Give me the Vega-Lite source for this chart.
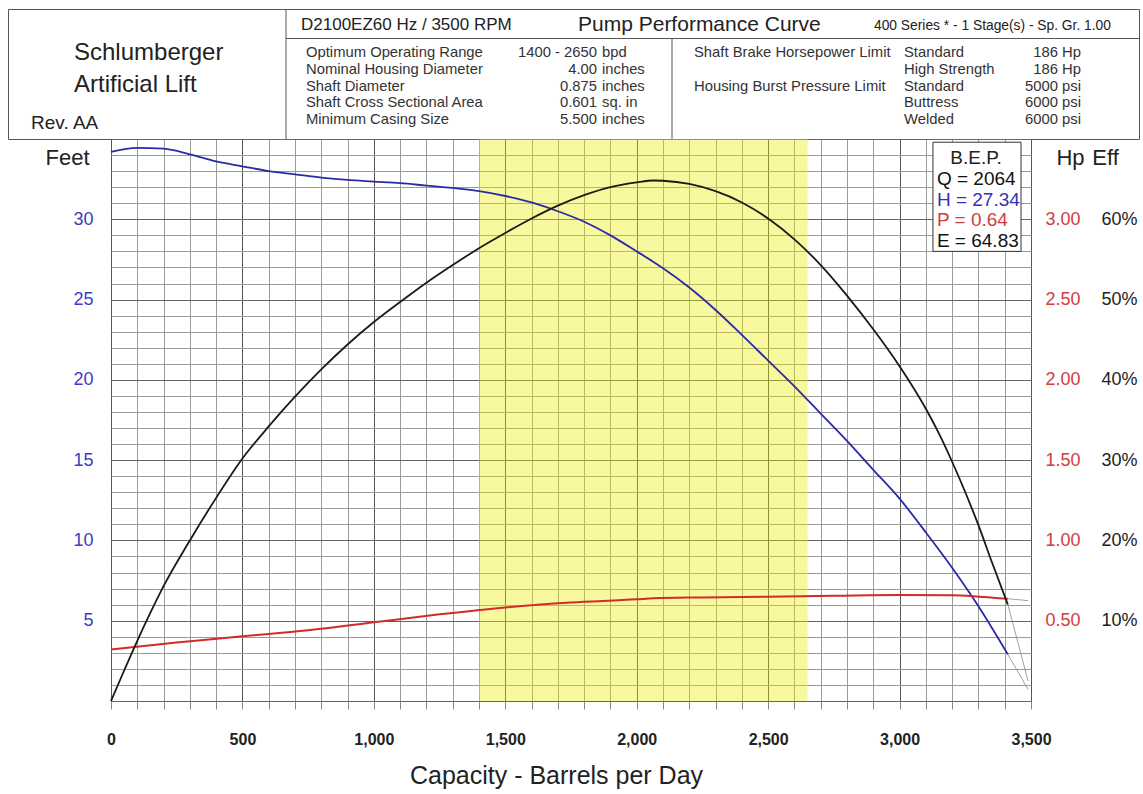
{
  "$schema": "https://vega.github.io/schema/vega-lite/v6.json",
  "padding": {"left": 7, "top": 8, "right": 0, "bottom": 0},
  "background": "white",
  "config": {
    "view": {"stroke": "#555", "strokeWidth": 1},
    "font": "Liberation Sans",
    "text": {"font": "Liberation Sans"}
  },
  "datasets": {
    "band": [{"from": 1400, "to": 2650}],
    "head": [
      {"q": 0, "ft": 34.2}, {"q": 100, "ft": 34.45}, {"q": 200, "ft": 34.4}, {"q": 300, "ft": 34.05},
      {"q": 400, "ft": 33.6}, {"q": 500, "ft": 33.3}, {"q": 600, "ft": 33.0}, {"q": 700, "ft": 32.8},
      {"q": 800, "ft": 32.6}, {"q": 900, "ft": 32.45}, {"q": 1000, "ft": 32.35}, {"q": 1100, "ft": 32.25},
      {"q": 1200, "ft": 32.1}, {"q": 1300, "ft": 31.95}, {"q": 1400, "ft": 31.75}, {"q": 1500, "ft": 31.45},
      {"q": 1600, "ft": 31.05}, {"q": 1700, "ft": 30.5}, {"q": 1800, "ft": 29.85}, {"q": 1900, "ft": 29.0},
      {"q": 2000, "ft": 28.0}, {"q": 2064, "ft": 27.34}, {"q": 2100, "ft": 26.95}, {"q": 2200, "ft": 25.75},
      {"q": 2300, "ft": 24.35}, {"q": 2400, "ft": 22.8}, {"q": 2500, "ft": 21.2}, {"q": 2600, "ft": 19.6},
      {"q": 2700, "ft": 17.9}, {"q": 2800, "ft": 16.2}, {"q": 2900, "ft": 14.4}, {"q": 3000, "ft": 12.6},
      {"q": 3100, "ft": 10.5}, {"q": 3200, "ft": 8.3}, {"q": 3300, "ft": 5.9}, {"q": 3412, "ft": 2.9}
    ],
    "headTail": [{"q": 3412, "ft": 2.9}, {"q": 3489, "ft": 0.72}],
    "power": [
      {"q": 0, "hp": 0.321}, {"q": 250, "hp": 0.365}, {"q": 500, "hp": 0.403}, {"q": 750, "hp": 0.44},
      {"q": 1000, "hp": 0.49}, {"q": 1250, "hp": 0.54}, {"q": 1500, "hp": 0.583}, {"q": 1750, "hp": 0.613},
      {"q": 2000, "hp": 0.633}, {"q": 2064, "hp": 0.64}, {"q": 2250, "hp": 0.645}, {"q": 2500, "hp": 0.65},
      {"q": 2750, "hp": 0.655}, {"q": 3000, "hp": 0.66}, {"q": 3200, "hp": 0.658}, {"q": 3300, "hp": 0.65},
      {"q": 3412, "hp": 0.637}
    ],
    "powerTail": [{"q": 3412, "hp": 0.637}, {"q": 3489, "hp": 0.625}],
    "eff": [
      {"q": 0, "e": 0}, {"q": 50, "e": 3.8}, {"q": 100, "e": 7.5}, {"q": 150, "e": 11}, {"q": 200, "e": 14.3},
      {"q": 300, "e": 20}, {"q": 400, "e": 25.3}, {"q": 500, "e": 30.2}, {"q": 600, "e": 34.2},
      {"q": 700, "e": 37.9}, {"q": 800, "e": 41.3}, {"q": 900, "e": 44.4}, {"q": 1000, "e": 47.2},
      {"q": 1100, "e": 49.7}, {"q": 1200, "e": 52.1}, {"q": 1300, "e": 54.3}, {"q": 1400, "e": 56.4},
      {"q": 1500, "e": 58.3}, {"q": 1600, "e": 60.1}, {"q": 1700, "e": 61.7}, {"q": 1800, "e": 63.0},
      {"q": 1900, "e": 64.0}, {"q": 2000, "e": 64.6}, {"q": 2064, "e": 64.83}, {"q": 2100, "e": 64.8},
      {"q": 2200, "e": 64.4}, {"q": 2300, "e": 63.5}, {"q": 2400, "e": 62.1}, {"q": 2500, "e": 60.1},
      {"q": 2600, "e": 57.5}, {"q": 2700, "e": 54.3}, {"q": 2800, "e": 50.5}, {"q": 2900, "e": 46.3},
      {"q": 3000, "e": 41.7}, {"q": 3100, "e": 36.4}, {"q": 3150, "e": 33.3}, {"q": 3200, "e": 29.8},
      {"q": 3250, "e": 26.0}, {"q": 3300, "e": 21.9}, {"q": 3350, "e": 17.4}, {"q": 3412, "e": 12}
    ],
    "effTail": [{"q": 3412, "e": 12}, {"q": 3489, "e": 2.5}],
    "bep": [
      {"line": 0, "key": "B.E.P.", "label": "B.E.P."},
      {"line": 1, "key": "Q", "label": "Q = 2064"},
      {"line": 2, "key": "H", "label": "H = 27.34"},
      {"line": 3, "key": "P", "label": "P = 0.64"},
      {"line": 4, "key": "E", "label": "E = 64.83"}
    ],
    "hdrC": [
      {"line": 1, "item": "Optimum Operating Range", "value": "1400 - 2650", "unit": "bpd"},
      {"line": 2, "item": "Nominal Housing Diameter", "value": "4.00", "unit": "inches"},
      {"line": 3, "item": "Shaft Diameter", "value": "0.875", "unit": "inches"},
      {"line": 4, "item": "Shaft Cross Sectional Area", "value": "0.601", "unit": "sq. in"},
      {"line": 5, "item": "Minimum Casing Size", "value": "5.500", "unit": "inches"}
    ],
    "hdrD": [
      {"line": 1, "limit": "Shaft Brake Horsepower Limit", "grade": "Standard", "rating": "186 Hp"},
      {"line": 2, "limit": "", "grade": "High Strength", "rating": "186 Hp"},
      {"line": 3, "limit": "Housing Burst Pressure Limit", "grade": "Standard", "rating": "5000 psi"},
      {"line": 4, "limit": "", "grade": "Buttress", "rating": "6000 psi"},
      {"line": 5, "limit": "", "grade": "Welded", "rating": "6000 psi"}
    ]
  },
  "spacing": 0,
  "bounds": "flush",
  "vconcat": [
    {
      "width": 1131,
      "height": 130,
      "layer": [
        {"data": {"values": [{}]}, "mark": {"type": "rule", "color": "#555", "strokeWidth": 1},
         "encoding": {"x": {"value": 278}, "y": {"value": 0}, "y2": {"value": 130}}},
        {"data": {"values": [{}]}, "mark": {"type": "rule", "color": "#555", "strokeWidth": 1},
         "encoding": {"x": {"value": 664}, "y": {"value": 29.5}, "y2": {"value": 130}}},
        {"data": {"values": [{}]}, "mark": {"type": "rule", "color": "#555", "strokeWidth": 1},
         "encoding": {"x": {"value": 278}, "x2": {"value": 1131}, "y": {"value": 29.5}}},
        {"data": {"values": [{}]}, "mark": {"type": "text", "text": "Schlumberger", "fontSize": 24, "align": "left", "baseline": "middle", "color": "#222"},
         "encoding": {"x": {"value": 66}, "y": {"value": 44}}},
        {"data": {"values": [{}]}, "mark": {"type": "text", "text": "Artificial Lift", "fontSize": 24, "align": "left", "baseline": "middle", "color": "#222"},
         "encoding": {"x": {"value": 66}, "y": {"value": 76}}},
        {"data": {"values": [{}]}, "mark": {"type": "text", "text": "Rev. AA", "fontSize": 19, "align": "left", "baseline": "middle", "color": "#222"},
         "encoding": {"x": {"value": 23}, "y": {"value": 114}}},
        {"data": {"values": [{}]}, "mark": {"type": "text", "text": "D2100EZ60 Hz / 3500 RPM", "fontSize": 17, "align": "left", "baseline": "middle", "color": "#222"},
         "encoding": {"x": {"value": 293}, "y": {"value": 16}}},
        {"data": {"values": [{}]}, "mark": {"type": "text", "text": "Pump Performance Curve", "fontSize": 21, "align": "left", "baseline": "middle", "color": "#222"},
         "encoding": {"x": {"value": 570}, "y": {"value": 16}}},
        {"data": {"values": [{}]}, "mark": {"type": "text", "text": "400 Series * - 1 Stage(s) - Sp. Gr. 1.00", "fontSize": 13.8, "align": "left", "baseline": "middle", "color": "#222"},
         "encoding": {"x": {"value": 866}, "y": {"value": 17}}},
        {"data": {"name": "hdrC"}, "mark": {"type": "text", "fontSize": 14.8, "align": "left", "baseline": "middle", "color": "#333"},
         "encoding": {"x": {"value": 298}, "y": {"field": "line", "type": "quantitative", "scale": {"domain": [1, 5], "range": [44, 111], "nice": false, "zero": false}, "axis": null}, "text": {"field": "item"}}},
        {"data": {"name": "hdrC"}, "mark": {"type": "text", "fontSize": 14.8, "align": "right", "baseline": "middle", "color": "#333"},
         "encoding": {"x": {"value": 589}, "y": {"field": "line", "type": "quantitative"}, "text": {"field": "value"}}},
        {"data": {"name": "hdrC"}, "mark": {"type": "text", "fontSize": 14.8, "align": "left", "baseline": "middle", "color": "#333"},
         "encoding": {"x": {"value": 594}, "y": {"field": "line", "type": "quantitative"}, "text": {"field": "unit"}}},
        {"data": {"name": "hdrD"}, "mark": {"type": "text", "fontSize": 14.8, "align": "left", "baseline": "middle", "color": "#333"},
         "encoding": {"x": {"value": 686}, "y": {"field": "line", "type": "quantitative"}, "text": {"field": "limit"}}},
        {"data": {"name": "hdrD"}, "mark": {"type": "text", "fontSize": 14.8, "align": "left", "baseline": "middle", "color": "#333"},
         "encoding": {"x": {"value": 896}, "y": {"field": "line", "type": "quantitative"}, "text": {"field": "grade"}}},
        {"data": {"name": "hdrD"}, "mark": {"type": "text", "fontSize": 14.8, "align": "right", "baseline": "middle", "color": "#333"},
         "encoding": {"x": {"value": 1073}, "y": {"field": "line", "type": "quantitative"}, "text": {"field": "rating"}}}
      ]
    },
    {
      "spacing": 0,
      "bounds": "flush",
      "hconcat": [
        {"width": 103, "height": 562, "data": {"values": [{}]}, "mark": {"type": "point", "opacity": 0}, "encoding": {}},
        {
          "width": 920,
          "height": 562,
          "layer": [
            {
              "layer": [
                {"data": {"name": "band"}, "mark": {"type": "rect", "color": "#eded00", "opacity": 0.38},
                 "encoding": {
                   "x": {"field": "from", "type": "quantitative", "scale": {"domain": [0, 3500], "nice": false, "zero": false},
                     "axis": {
                       "values": [0,100,200,300,400,500,600,700,800,900,1000,1100,1200,1300,1400,1500,1600,1700,1800,1900,2000,2100,2200,2300,2400,2500,2600,2700,2800,2900,3000,3100,3200,3300,3400,3500],
                       "tickCount": 200,
                       "labelExpr": "datum.value % 500 === 0 ? format(datum.value, ',') : ''",
                       "domain": false, "tickSize": 8, "tickColor": "#888", "labelPadding": 22,
                       "labelFontSize": 16, "labelFontWeight": "bold", "labelColor": "#222",
                       "labelFlush": false, "labelOverlap": false,
                       "grid": true, "gridOpacity": 1,
                       "gridColor": {"condition": {"test": "datum.value % 500 === 0", "value": "#555"}, "value": "#9a9a9a"},
                       "title": "Capacity - Barrels per Day", "titleFontSize": 25, "titleFontWeight": "normal",
                       "titleColor": "#222", "titlePadding": 16, "titleX": 445, "titleAlign": "center"
                     }},
                   "x2": {"field": "to"}
                 }},
                {"data": {"name": "head"}, "mark": {"type": "line", "color": "#2b2ba8", "strokeWidth": 1.8, "interpolate": "monotone"},
                 "encoding": {
                   "x": {"field": "q", "type": "quantitative"},
                   "y": {"field": "ft", "type": "quantitative", "scale": {"domain": [0, 35], "nice": false, "zero": false},
                     "axis": {
                       "values": [0,1,2,3,4,5,6,7,8,9,10,11,12,13,14,15,16,17,18,19,20,21,22,23,24,25,26,27,28,29,30,31,32,33,34,35],
                       "tickCount": 200,
                       "labelExpr": "datum.value % 5 === 0 && datum.value > 0 && datum.value < 35 ? datum.value : ''",
                       "labelColor": "#3c3cc8", "labelFontSize": 18, "labelPadding": 18,
                       "labelFlush": false, "labelOverlap": false,
                       "ticks": false, "tickSize": 0, "domain": false,
                       "grid": true, "gridOpacity": 1,
                       "gridColor": {"condition": {"test": "datum.value % 5 === 0", "value": "#666"}, "value": "#9a9a9a"},
                       "title": "Feet", "titleAngle": 0, "titleX": -44, "titleY": 18, "titleAlign": "center",
                       "titleBaseline": "middle", "titleFontSize": 22, "titleFontWeight": "normal", "titleColor": "#222"
                     }}
                 }},
                {"data": {"name": "headTail"}, "mark": {"type": "line", "color": "#888", "strokeWidth": 0.8},
                 "encoding": {"x": {"field": "q", "type": "quantitative"}, "y": {"field": "ft", "type": "quantitative"}}},
                {"data": {"values": [{}]}, "mark": {"type": "rect", "fill": "white", "stroke": "#333", "strokeWidth": 1},
                 "encoding": {"x": {"datum": 3127}, "x2": {"datum": 3462}, "y": {"datum": 34.8}, "y2": {"datum": 28.0}}}
              ]
            },
            {
              "layer": [
                {"data": {"name": "power"}, "mark": {"type": "line", "color": "#d42a2a", "strokeWidth": 2, "interpolate": "monotone"},
                 "encoding": {
                   "x": {"field": "q", "type": "quantitative"},
                   "y": {"field": "hp", "type": "quantitative", "scale": {"domain": [0, 3.5], "nice": false, "zero": false},
                     "axis": {
                       "orient": "right", "values": [0.5, 1, 1.5, 2, 2.5, 3], "tickCount": 200, "format": ".2f",
                       "labelColor": "#d23c3c", "labelFontSize": 18, "labelPadding": 14,
                       "labelFlush": false, "labelOverlap": false,
                       "ticks": false, "tickSize": 0, "domain": false, "grid": false,
                       "title": "Hp", "titleAngle": 0, "titleX": 39, "titleY": 18, "titleAlign": "center",
                       "titleBaseline": "middle", "titleFontSize": 22, "titleFontWeight": "normal", "titleColor": "#222"
                     }}
                 }},
                {"data": {"name": "powerTail"}, "mark": {"type": "line", "color": "#888", "strokeWidth": 0.8},
                 "encoding": {"x": {"field": "q", "type": "quantitative"}, "y": {"field": "hp", "type": "quantitative"}}}
              ]
            },
            {
              "layer": [
                {"data": {"name": "eff"}, "mark": {"type": "line", "color": "#1a1a1a", "strokeWidth": 1.8, "interpolate": "monotone"},
                 "encoding": {
                   "x": {"field": "q", "type": "quantitative"},
                   "y": {"field": "e", "type": "quantitative", "scale": {"domain": [0, 70], "nice": false, "zero": false},
                     "axis": {
                       "orient": "right", "offset": 70, "values": [10, 20, 30, 40, 50, 60], "tickCount": 200,
                       "labelExpr": "datum.value + '%'",
                       "labelColor": "#222", "labelFontSize": 18, "labelPadding": 0,
                       "labelFlush": false, "labelOverlap": false,
                       "ticks": false, "tickSize": 0, "domain": false, "grid": false,
                       "title": "Eff", "titleAngle": 0, "titleX": 4, "titleY": 18, "titleAlign": "center",
                       "titleBaseline": "middle", "titleFontSize": 22, "titleFontWeight": "normal", "titleColor": "#222"
                     }}
                 }},
                {"data": {"name": "effTail"}, "mark": {"type": "line", "color": "#888", "strokeWidth": 0.8},
                 "encoding": {"x": {"field": "q", "type": "quantitative"}, "y": {"field": "e", "type": "quantitative"}}}
              ]
            },
            {
              "data": {"name": "bep"},
              "layer": [
                {"transform": [{"filter": "datum.line === 0"}],
                 "mark": {"type": "text", "fontSize": 19, "align": "center", "baseline": "middle"},
                 "encoding": {
                   "x": {"datum": 3291},
                   "y": {"field": "line", "type": "quantitative", "scale": {"domain": [0, 4], "range": [19, 102], "nice": false, "zero": false}, "axis": null},
                   "text": {"field": "label"},
                   "color": {"field": "key", "type": "nominal", "scale": {"domain": ["B.E.P.", "Q", "H", "P", "E"], "range": ["#222", "#111", "#3232b4", "#d23c3c", "#111"]}, "legend": null}
                 }},
                {"transform": [{"filter": "datum.line > 0"}],
                 "mark": {"type": "text", "fontSize": 19, "align": "left", "baseline": "middle"},
                 "encoding": {
                   "x": {"datum": 3142},
                   "y": {"field": "line", "type": "quantitative"},
                   "text": {"field": "label"},
                   "color": {"field": "key", "type": "nominal", "legend": null}
                 }}
              ]
            }
          ],
          "resolve": {"scale": {"y": "independent"}, "axis": {"y": "independent"}}
        },
        {"width": 108, "height": 562, "data": {"values": [{}]}, "mark": {"type": "point", "opacity": 0}, "encoding": {}}
      ]
    }
  ]
}
